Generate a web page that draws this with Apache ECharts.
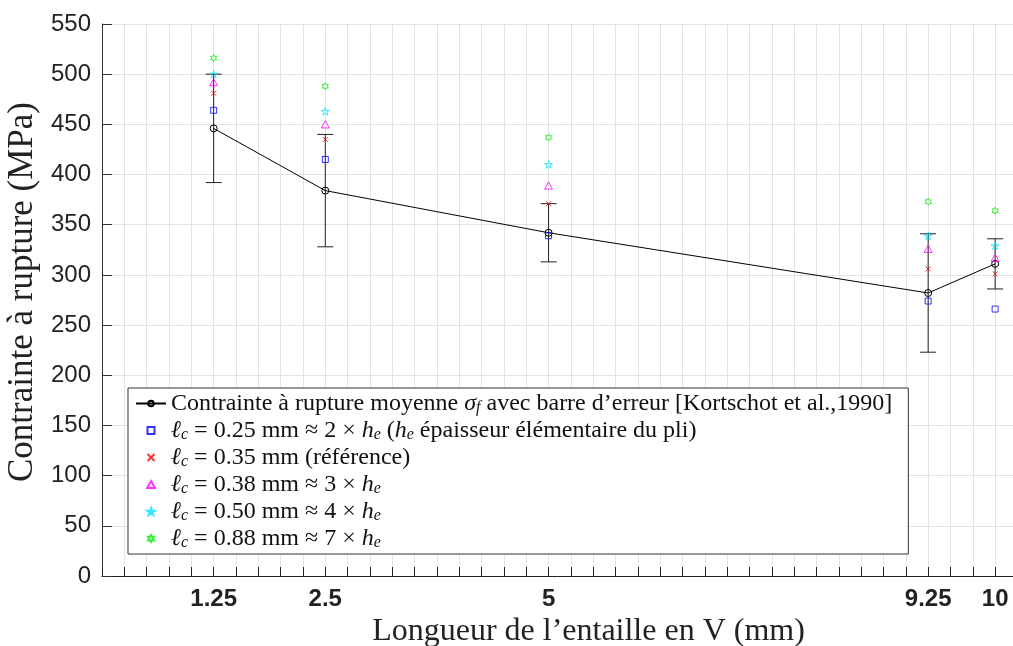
<!DOCTYPE html>
<html>
<head>
<meta charset="utf-8">
<script src="https://cdn.jsdelivr.net/npm/echarts@6/dist/echarts.min.js"></script>
<style>
  html, body { margin: 0; padding: 0; background: #fff; }
  #chart { width: 1013px; height: 646px; }
</style>
</head>
<body>
<div id="chart"></div>
<script>
// Notch lengths (mm) and labelled ticks on the x axis
const notchLength = [1.25, 2.5, 5, 9.25, 10];
const xTickLabels = [1.25, 2.5, 5, 9.25, 10];

// Experimental mean failure stress (MPa) and half-width of the error bar
const meanStress = [446, 384, 342, 282, 311];
const errorHalf = [54, 56, 29, 59, 25];

// Simulated failure stress (MPa) for each characteristic length
const lc025 = [464, 415, 339, 274, 266];
const lc035 = [481, 435, 371, 306, 301];
const lc038 = [492, 450, 389, 326, 317];
const lc050 = [500, 463, 410, 339, 329];
const lc088 = [516, 488, 437, 373, 364];

// Legend entries (rich-text markup for italic symbols and subscripts)
const legendNames = ['mean', 'lc025', 'lc035', 'lc038', 'lc050', 'lc088'];
const legendTexts = {
  mean: 'Contrainte à rupture moyenne {it|σ}{sb|f} avec barre d’erreur [Kortschot et al.,1990]',
  lc025: '{it|ℓ}{sb|c} = 0.25 mm ≈ 2 × {it|h}{sb|e} ({it|h}{sb|e} épaisseur élémentaire du pli)',
  lc035: '{it|ℓ}{sb|c} = 0.35 mm (référence)',
  lc038: '{it|ℓ}{sb|c} = 0.38 mm ≈ 3 × {it|h}{sb|e}',
  lc050: '{it|ℓ}{sb|c} = 0.50 mm ≈ 4 × {it|h}{sb|e}',
  lc088: '{it|ℓ}{sb|c} = 0.88 mm ≈ 7 × {it|h}{sb|e}'
};

const SERIF = '"Liberation Serif", "DejaVu Serif", serif';
const SANS = '"Liberation Sans", Arial, sans-serif';

// Hollow marker outlines
const SYM_SQUARE = 'path://M0,0L10,0L10,10L0,10Z';
const SYM_CROSS = 'path://M0,0L10,10M10,0L0,10';
const SYM_TRIANGLE = 'path://M5,0L10,9L0,9Z';
const SYM_STAR = 'path://M10,0L12.25,6.91L19.51,6.91L13.63,11.18L15.88,18.09L10,13.82L4.12,18.09L6.37,11.18L0.49,6.91L7.75,6.91Z';
const SYM_HEXAGRAM = 'path://M10,0L12.89,5L18.66,5L15.77,10L18.66,15L12.89,15L10,20L7.11,15L1.34,15L4.23,10L1.34,5L7.11,5Z';

function pairs(values) {
  return notchLength.map((x, i) => [x, values[i]]);
}

const errorData = notchLength.map((x, i) => [x, meanStress[i] - errorHalf[i], meanStress[i] + errorHalf[i]]);

function scatterSeries(name, values, symbol, size, color) {
  return {
    name: name,
    type: 'scatter',
    data: pairs(values),
    symbol: symbol,
    symbolSize: size,
    symbolKeepAspect: true,
    itemStyle: { color: 'rgba(0,0,0,0)', borderColor: color, borderWidth: 1 },
    z: 5
  };
}

const chart = echarts.init(document.getElementById('chart'), null, { renderer: 'canvas' });

chart.setOption({
  animation: false,
  backgroundColor: '#fff',
  grid: { left: 102, top: 24, right: 0, bottom: 70, outerBoundsMode: 'none', containLabel: false },
  xAxis: {
    type: 'value',
    min: 0,
    max: 10.2,
    interval: 0.25,
    name: 'Longueur de l’entaille en V (mm)',
    nameLocation: 'middle',
    nameGap: 38,
    nameTextStyle: { fontFamily: SERIF, fontSize: 32, color: '#222', padding: [0, 0, 0, 62] },
    axisLine: { show: true, lineStyle: { color: '#222', width: 1 } },
    axisTick: { show: true, inside: true, length: 9, lineStyle: { color: '#222' } },
    axisLabel: {
      margin: 11,
      fontFamily: SANS,
      fontSize: 24,
      fontWeight: 'bold',
      color: '#222',
      showMaxLabel: false,
      formatter: function (v) {
        const hit = xTickLabels.find(t => Math.abs(t - v) < 1e-6);
        return hit === undefined ? '' : String(hit);
      }
    },
    splitLine: { show: true, lineStyle: { color: '#e3e3e3', width: 1 } }
  },
  yAxis: {
    type: 'value',
    min: 0,
    max: 550,
    interval: 50,
    name: 'Contrainte à rupture (MPa)',
    nameLocation: 'middle',
    nameGap: 62,
    nameTextStyle: { fontFamily: SERIF, fontSize: 35, color: '#222', padding: [0, 0, 0, 16] },
    axisLine: { show: true, lineStyle: { color: '#333', width: 1 } },
    axisTick: { show: true, inside: true, length: 10, lineStyle: { color: '#333' } },
    axisLabel: { margin: 11, fontFamily: SANS, fontSize: 24, color: '#222' },
    splitLine: { show: true, lineStyle: { color: '#e3e3e3', width: 1 } }
  },
  legend: {
    data: legendNames,
    orient: 'vertical',
    left: 128,
    top: 388,
    padding: [3, 16, 3, 7],
    itemGap: 2,
    itemWidth: 30,
    itemHeight: 7,
    selectedMode: false,
    backgroundColor: '#fff',
    borderColor: '#333',
    borderWidth: 1,
    borderRadius: 0,
    textStyle: {
      fontFamily: SERIF,
      fontSize: 24,
      lineHeight: 24,
      color: '#111',
      rich: {
        it: { fontFamily: SERIF, fontSize: 24, lineHeight: 24, fontStyle: 'italic', color: '#111' },
        sb: { fontFamily: SERIF, fontSize: 16, lineHeight: 15, fontStyle: 'italic', color: '#111', padding: [9, 0, 0, 0] }
      }
    },
    formatter: function (name) { return legendTexts[name]; }
  },
  series: [
    {
      name: 'errorbars',
      type: 'custom',
      data: errorData,
      z: 3,
      renderItem: function (params, api) {
        const x = api.value(0);
        const lo = api.coord([x, api.value(1)]);
        const hi = api.coord([x, api.value(2)]);
        const cap = 8;
        const style = { stroke: '#222', lineWidth: 1 };
        return {
          type: 'group',
          children: [
            { type: 'line', shape: { x1: lo[0], y1: lo[1], x2: hi[0], y2: hi[1] }, style: style },
            { type: 'line', shape: { x1: lo[0] - cap, y1: lo[1], x2: lo[0] + cap, y2: lo[1] }, style: style },
            { type: 'line', shape: { x1: hi[0] - cap, y1: hi[1], x2: hi[0] + cap, y2: hi[1] }, style: style }
          ]
        };
      }
    },
    {
      name: 'mean',
      type: 'line',
      data: pairs(meanStress),
      symbol: 'circle',
      symbolSize: 7,
      showAllSymbol: true,
      lineStyle: { color: '#000', width: 1 },
      itemStyle: { color: 'rgba(0,0,0,0)', borderColor: '#000', borderWidth: 1 },
      z: 4
    },
    scatterSeries('lc025', lc025, SYM_SQUARE, 6, '#0000ff'),
    scatterSeries('lc035', lc035, SYM_CROSS, 5, '#ff0000'),
    scatterSeries('lc038', lc038, SYM_TRIANGLE, 8, '#ff00ff'),
    scatterSeries('lc050', lc050, SYM_STAR, 8, '#00e5ff'),
    scatterSeries('lc088', lc088, SYM_HEXAGRAM, 7, '#00ee00')
  ]
});
</script>
</body>
</html>
